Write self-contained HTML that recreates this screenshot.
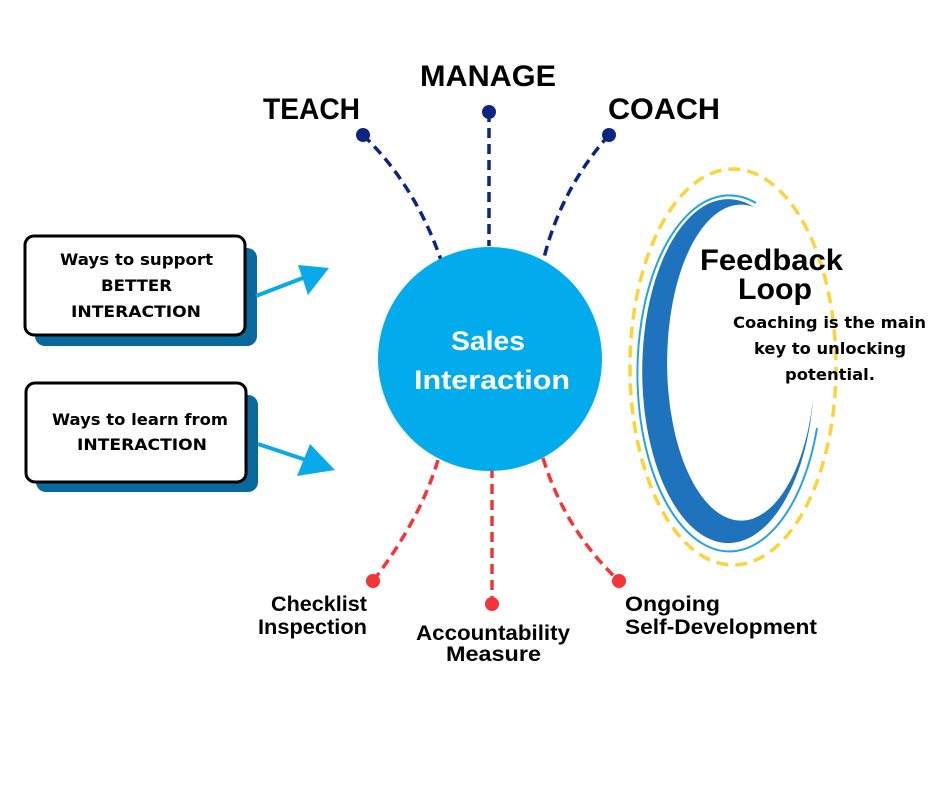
<!DOCTYPE html>
<html><head><meta charset="utf-8"><style>
html,body{margin:0;padding:0;background:#fff;}
svg{display:block;}
.h{font-family:"Liberation Sans",sans-serif;font-weight:bold;fill:#000;}
.b{font-family:"DejaVu Sans","Liberation Sans",sans-serif;font-weight:bold;fill:#000;}
</style></head><body>
<svg width="940" height="788" viewBox="0 0 940 788" xmlns="http://www.w3.org/2000/svg">
<rect width="940" height="788" fill="#fff"/>
<!-- boxes -->
<rect x="35" y="248" width="222" height="98" rx="10" fill="#07699c"/>
<rect x="25" y="236" width="220" height="99" rx="9" fill="#fff" stroke="#000" stroke-width="3"/>
<text class="b" font-size="16" x="60" y="265" textLength="153" lengthAdjust="spacingAndGlyphs">Ways to support</text>
<text class="b" font-size="16" x="101" y="291" textLength="71" lengthAdjust="spacingAndGlyphs">BETTER</text>
<text class="b" font-size="16" x="71" y="317" textLength="130" lengthAdjust="spacingAndGlyphs">INTERACTION</text>
<rect x="36" y="395" width="222" height="97" rx="10" fill="#07699c"/>
<rect x="26" y="383" width="220" height="99" rx="9" fill="#fff" stroke="#000" stroke-width="3"/>
<text class="b" font-size="16" x="52" y="425" textLength="176" lengthAdjust="spacingAndGlyphs">Ways to learn from</text>
<text class="b" font-size="16" x="77" y="450" textLength="130" lengthAdjust="spacingAndGlyphs">INTERACTION</text>
<!-- arrows -->
<line x1="256" y1="296" x2="308" y2="276" stroke="#0aa9ea" stroke-width="4"/>
<polygon points="329,268 298,265 308,295" fill="#0aa9ea"/>
<line x1="258" y1="444" x2="312" y2="462" stroke="#0aa9ea" stroke-width="4"/>
<polygon points="335,470 310,444 297,476" fill="#0aa9ea"/>
<!-- top connectors -->
<g fill="none" stroke="#0c2580" stroke-width="3.5" stroke-dasharray="10,6">
<path d="M363,135 Q415,185 441,260"/>
<path d="M489,112 L489,246"/>
<path d="M609,135 Q560,190 543,262"/>
</g>
<g fill="#0c2580"><circle cx="363" cy="135" r="7"/><circle cx="489" cy="112" r="7"/><circle cx="609" cy="135" r="7"/></g>
<!-- bottom connectors -->
<g fill="none" stroke="#f53437" stroke-width="3.5" stroke-dasharray="10,6">
<path d="M438,460 Q420,520 373,581"/>
<path d="M492,468 L492,604"/>
<path d="M543,458 Q565,530 619,581"/>
</g>
<g fill="#f53437"><circle cx="373" cy="581" r="7"/><circle cx="492" cy="604" r="7"/><circle cx="619" cy="581" r="7"/></g>
<!-- circle -->
<circle cx="490" cy="359" r="112" fill="#02acec"/>
<text class="h" font-size="27" x="451" y="350" textLength="74" lengthAdjust="spacingAndGlyphs" style="fill:#fff">Sales</text>
<text class="h" font-size="27" x="414" y="389" textLength="156" lengthAdjust="spacingAndGlyphs" style="fill:#fff">Interaction</text>
<!-- headings -->
<text class="h" font-size="30" x="263" y="119" textLength="97" lengthAdjust="spacingAndGlyphs">TEACH</text>
<text class="h" font-size="30" x="420" y="86" textLength="136" lengthAdjust="spacingAndGlyphs">MANAGE</text>
<text class="h" font-size="30" x="608" y="119" textLength="112" lengthAdjust="spacingAndGlyphs">COACH</text>
<text class="h" font-size="21" x="271" y="611" textLength="96" lengthAdjust="spacingAndGlyphs">Checklist</text>
<text class="h" font-size="21" x="258" y="634" textLength="109" lengthAdjust="spacingAndGlyphs">Inspection</text>
<text class="h" font-size="21" x="416" y="640" textLength="154" lengthAdjust="spacingAndGlyphs">Accountability</text>
<text class="h" font-size="21" x="446" y="661" textLength="95" lengthAdjust="spacingAndGlyphs">Measure</text>
<text class="h" font-size="21" x="625" y="611" textLength="95" lengthAdjust="spacingAndGlyphs">Ongoing</text>
<text class="h" font-size="21" x="625" y="634" textLength="192" lengthAdjust="spacingAndGlyphs">Self-Development</text>
<!-- feedback loop -->
<ellipse cx="733" cy="367" rx="103" ry="198" fill="none" stroke="#fcd43a" stroke-width="3.5" stroke-dasharray="12,7"/>
<path d="M756,203 A92,178 0 1 0 817,428" fill="none" stroke="#23a3e3" stroke-width="2"/>
<path d="M754,207 A86,172 0 1 0 813,400 A74,158 0 1 1 754,207 Z" fill="#1f73bd"/>
<text class="h" font-size="30" x="700" y="270" textLength="143" lengthAdjust="spacingAndGlyphs">Feedback</text>
<text class="h" font-size="30" x="738" y="299" textLength="74" lengthAdjust="spacingAndGlyphs">Loop</text>
<text class="b" font-size="16" x="733" y="328" textLength="193" lengthAdjust="spacingAndGlyphs">Coaching is the main</text>
<text class="b" font-size="16" x="754" y="354" textLength="152" lengthAdjust="spacingAndGlyphs">key to unlocking</text>
<text class="b" font-size="16" x="785" y="380" textLength="90" lengthAdjust="spacingAndGlyphs">potential.</text>
</svg>
</body></html>
